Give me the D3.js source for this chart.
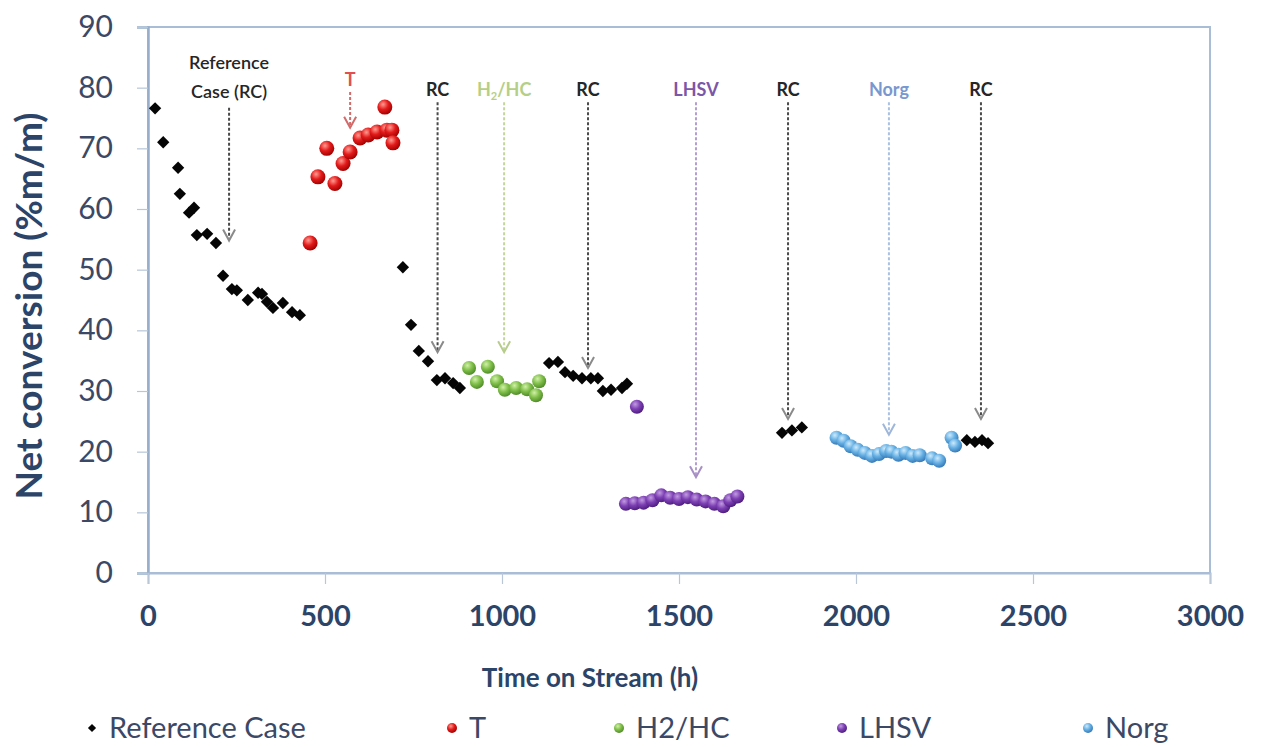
<!DOCTYPE html>
<html>
<head>
<meta charset="utf-8">
<script src="https://cdn.jsdelivr.net/npm/d3@7"></script>
<style>
  html, body { margin: 0; padding: 0; background: #ffffff; }
  svg { display: block; font-family: Lato, "Open Sans", sans-serif; }
</style>
</head>
<body>
<svg id="chart" width="1264" height="747"></svg>
<script>
// ---- data: time on stream (h) and net conversion (%m/m) ----
const refTime = [20, 43, 85, 90, 116, 130, 138, 167, 192, 212, 237, 251, 282, 311, 322, 336, 353, 381, 407, 429,
                 720, 743, 765, 791, 816, 839, 862, 881,
                 1133, 1158, 1178, 1201, 1226, 1251, 1271, 1285, 1308, 1339, 1353,
                 1791, 1819, 1847,
                 2313, 2336, 2356, 2373];
const refConv = [76.6, 71.0, 66.8, 62.5, 59.4, 60.2, 55.7, 55.9, 54.4, 49.0, 46.8, 46.6, 45.0, 46.2, 46.0, 44.7, 43.7, 44.5, 43.0, 42.5,
                 50.4, 40.9, 36.6, 34.9, 31.8, 32.1, 31.3, 30.5,
                 34.6, 34.8, 33.1, 32.5, 32.1, 32.1, 32.1, 30.0, 30.2, 30.5, 31.2,
                 23.1, 23.5, 24.0,
                 21.9, 21.6, 21.9, 21.4];

const tTime = [458, 480, 505, 528, 551, 571, 599, 622, 647, 669, 675, 689, 692];
const tConv = [54.4, 65.3, 70.0, 64.2, 67.5, 69.4, 71.7, 72.2, 72.7, 76.8, 73.0, 73.0, 70.9];

const h2Time = [907, 929, 960, 986, 1008, 1040, 1071, 1096, 1105];
const h2Conv = [33.8, 31.5, 34.0, 31.6, 30.2, 30.5, 30.3, 29.3, 31.6];

const lhsvTime = [1381, 1350, 1375, 1400, 1425, 1450, 1475, 1500, 1525, 1550, 1575, 1600, 1625, 1645, 1665];
const lhsvConv = [27.4, 11.4, 11.5, 11.6, 12.0, 12.8, 12.4, 12.2, 12.5, 12.1, 11.8, 11.4, 11.0, 12.0, 12.6];

const norgTime = [1945, 1965, 1985, 2005, 2025, 2045, 2065, 2085, 2100, 2120, 2140, 2160, 2180, 2215, 2235, 2270, 2280];
const norgConv = [22.3, 21.8, 20.9, 20.3, 19.8, 19.3, 19.6, 20.1, 20.0, 19.5, 19.8, 19.3, 19.4, 18.9, 18.5, 22.3, 21.0];

// condition-change markers: time, label lines, arrow top and arrow tip (in %m/m)
const markTime  = [229, 571, 818, 1006, 1243, 1548, 1808, 2093, 2353];
const markLabel = [["Reference", "Case (RC)"], ["T"], ["RC"], ["H2/HC"], ["RC"], ["LHSV"], ["RC"], ["Norg"], ["RC"]];
const markKind  = ["ref", "t", "ref", "h2", "ref", "lhsv", "ref", "norg", "ref"];
const markTop   = [76.7, 79.3, 77.6, 77.6, 77.6, 77.6, 77.6, 77.6, 77.6];
const markTip   = [54.8, 73.4, 36.4, 36.4, 33.8, 15.8, 25.4, 22.8, 25.4];

const yTicks = [0, 10, 20, 30, 40, 50, 60, 70, 80, 90];
const xTicks = [0, 500, 1000, 1500, 2000, 2500, 3000];
const legendNames = ["Reference Case", "T", "H2/HC", "LHSV", "Norg"];

// ---- layout ----
const svg = d3.select("#chart");
const x = d3.scaleLinear().domain([0, 3000]).range([148, 1210]);
const y = d3.scaleLinear().domain([0, 90]).range([573, 27]);

const axisColor = "#a9bdd6";
const labelColor = "#3b4866";
const titleColor = "#2c4468";

// radial gradients for the shaded circle markers
const defs = svg.append("defs");
const shades = {
  t:    ["#ff9a90", "#e31b1b", "#a10000"],
  h2:   ["#d2f0a8", "#80c04a", "#4f8a28"],
  lhsv: ["#c19be0", "#7d40b4", "#4d1d7e"],
  norg: ["#cdeafc", "#66b0e4", "#3478b6"]
};
Object.entries(shades).forEach(([k, c]) => {
  const g = defs.append("radialGradient").attr("id", "g-" + k)
    .attr("cx", "38%").attr("cy", "32%").attr("r", "70%");
  g.append("stop").attr("offset", "0%").attr("stop-color", c[0]);
  g.append("stop").attr("offset", "50%").attr("stop-color", c[1]);
  g.append("stop").attr("offset", "100%").attr("stop-color", c[2]);
});

// plot frame
svg.append("rect")
  .attr("x", x(0)).attr("y", y(90))
  .attr("width", x(3000) - x(0)).attr("height", y(0) - y(90))
  .attr("fill", "#ffffff").attr("stroke", axisColor).attr("stroke-width", 2);

// y axis
const yAxis = svg.append("g").attr("transform", `translate(${x(0)},0)`)
  .call(d3.axisLeft(y).tickValues(yTicks).tickSize(11).tickPadding(24).tickFormat(d3.format("d")));
yAxis.select(".domain").attr("stroke", "#97aecb").attr("stroke-width", 2.5);
yAxis.selectAll(".tick line").attr("stroke", "#b8c6d8").attr("stroke-width", 1.2);
yAxis.selectAll(".tick text").attr("fill", labelColor).attr("font-size", 30)
  .attr("font-family", "Lato, sans-serif");

// x axis
const xAxis = svg.append("g").attr("transform", `translate(0,${y(0)})`)
  .call(d3.axisBottom(x).tickValues(xTicks).tickSize(11).tickPadding(21).tickFormat(d3.format("d")));
xAxis.select(".domain").attr("stroke", axisColor).attr("stroke-width", 2);
xAxis.selectAll(".tick line").attr("stroke", "#b8c6d8").attr("stroke-width", 1.2);
xAxis.selectAll(".tick text").attr("fill", titleColor).attr("font-size", 29).attr("font-weight", "bold")
  .attr("font-family", "Lato, sans-serif");

// axis titles
svg.append("text")
  .attr("transform", `translate(42,${(y(0) + y(90)) / 2 + 6}) rotate(-90)`)
  .attr("text-anchor", "middle").attr("fill", titleColor)
  .attr("font-size", 37).attr("font-weight", "bold")
  .text("Net conversion (%m/m)");
svg.append("text")
  .attr("x", 590).attr("y", 687).attr("text-anchor", "middle")
  .attr("fill", titleColor).attr("font-size", 26).attr("font-weight", "bold")
  .text("Time on Stream (h)");

// annotation arrows
const markStyle = {
  ref:  { line: "#4a4a4a", head: "#8a8a8a", text: "#262626" },
  t:    { line: "#d26a6a", head: "#d26a6a", text: "#e05050" },
  h2:   { line: "#c3d69b", head: "#b7cc8c", text: "#b6cf86" },
  lhsv: { line: "#b49dd0", head: "#a78fc6", text: "#7c56a8" },
  norg: { line: "#a9c1e2", head: "#9db6da", text: "#7898cf" }
};
const marks = markTime.map((t, i) => ({ t, lines: markLabel[i], kind: markKind[i], top: markTop[i], tip: markTip[i] }));
const ann = svg.append("g");
marks.forEach(m => {
  const s = markStyle[m.kind];
  const px = x(m.t);
  ann.append("line")
    .attr("x1", px).attr("x2", px).attr("y1", y(m.top)).attr("y2", y(m.tip) - 2)
    .attr("stroke", s.line).attr("stroke-width", 2).attr("stroke-dasharray", "3,2");
  ann.append("path")
    .attr("d", `M${px - 6},${y(m.tip) - 11} L${px},${y(m.tip)} L${px + 6},${y(m.tip) - 11}`)
    .attr("fill", "none").attr("stroke", s.head).attr("stroke-width", 2);
  const n = m.lines.length;
  const multi = n > 1;
  m.lines.forEach((ln, j) => {
    const txt = ann.append("text")
      .attr("x", px).attr("y", y(m.top) - (multi ? 10 : 6) - (n - 1 - j) * 29)
      .attr("text-anchor", "middle").attr("fill", s.text)
      .attr("font-size", 18).attr("font-weight", multi ? 600 : "bold");
    if (ln === "H2/HC") {
      txt.append("tspan").text("H");
      txt.append("tspan").attr("font-size", 11).attr("dy", 4).text("2");
      txt.append("tspan").attr("dy", -4).text("/HC");
    } else {
      txt.text(ln);
    }
  });
});

// series
const diamond = d3.symbol().type(d3.symbolSquare).size(76);
svg.append("g").selectAll("path")
  .data(refTime.map((t, i) => [t, refConv[i]]))
  .join("path")
  .attr("d", diamond)
  .attr("transform", d => `translate(${x(d[0])},${y(d[1])}) rotate(45)`)
  .attr("fill", "#050505");

function circles(times, convs, key, r) {
  svg.append("g").selectAll("circle")
    .data(times.map((t, i) => [t, convs[i]]))
    .join("circle")
    .attr("cx", d => x(d[0])).attr("cy", d => y(d[1])).attr("r", r)
    .attr("fill", `url(#g-${key})`);
}
circles(tTime, tConv, "t", 7.5);
circles(h2Time, h2Conv, "h2", 7);
circles(lhsvTime, lhsvConv, "lhsv", 7);
circles(norgTime, norgConv, "norg", 7);

// legend
const legendX = [92, 452, 619, 842, 1088];
const legendKeys = ["ref", "t", "h2", "lhsv", "norg"];
const leg = svg.append("g").attr("transform", "translate(0,728)");
legendNames.forEach((name, i) => {
  const lx = legendX[i];
  if (legendKeys[i] === "ref") {
    leg.append("path").attr("d", d3.symbol().type(d3.symbolSquare).size(34))
      .attr("transform", `translate(${lx},0) rotate(45)`).attr("fill", "#050505");
  } else {
    leg.append("circle").attr("cx", lx).attr("cy", 0).attr("r", 5)
      .attr("fill", `url(#g-${legendKeys[i]})`);
  }
  leg.append("text").attr("x", lx + 17).attr("y", 10)
    .attr("fill", labelColor).attr("font-size", 29)
    .text(name);
});
</script>
</body>
</html>
